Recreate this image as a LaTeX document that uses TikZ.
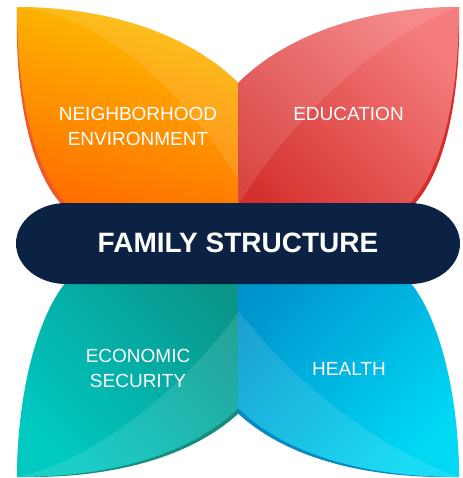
\documentclass[tikz,border=0pt]{standalone}
\usepackage{fontspec}
\setmainfont{Liberation Sans}
\definecolor{navy}{HTML}{0B2244}
\definecolor{orTop}{HTML}{FDBC00}
\definecolor{orBot}{HTML}{FF6400}
\definecolor{orShd}{HTML}{EF5A2A}
\definecolor{rdTop}{HTML}{F47C7C}
\definecolor{rdBot}{HTML}{D4312E}
\definecolor{rdShd}{HTML}{D52D27}
\definecolor{tlTop}{HTML}{0A948A}
\definecolor{tlBot}{HTML}{00C9C2}
\definecolor{tlShd}{HTML}{168C7C}
\definecolor{cyTop}{HTML}{0092CC}
\definecolor{cyBot}{HTML}{00D8F4}
\definecolor{cyShd}{HTML}{0A88C0}
\tikzset{
  petalNW/.style={insert path={(238.5,243) -- (238.5,83) .. controls (190,35) and (110,7) .. (17,7) .. controls (17,100) and (35,170) .. (66,203) -- (110,243) -- cycle}},
  petalNE/.style={insert path={(238,243) -- (238,83) .. controls (286,35) and (366,7) .. (459,7) .. controls (459,100) and (441,170) .. (410,203) -- (366,243) -- cycle}},
  petalSW/.style={insert path={(238.5,243) -- (238.5,408) .. controls (190,455) and (110,477) .. (17,477) .. controls (17,400) and (35,320) .. (66,282) -- (110,243) -- cycle}},
  petalSE/.style={insert path={(238,243) -- (238,408) .. controls (286,455) and (366,477) .. (459,477) .. controls (459,400) and (441,320) .. (410,282) -- (366,243) -- cycle}},
  shine/.style={fill=white, fill opacity=0.11},
  lbl/.style={text=white, font=\fontsize{19}{25}\selectfont, align=center, inner sep=0pt},
  ttl/.style={text=white, font=\bfseries\fontsize{28}{30}\selectfont, inner sep=0pt}
}
\begin{document}
\begin{tikzpicture}[x=1pt,y=-1pt]
\useasboundingbox (0,0) rectangle (462,478);
% ---- top left petal (orange)
\begin{scope}
  \clip (0,0) rectangle (238.5,478);
  \begin{scope}[rotate around={-1.4:(17,7)}]
    \fill[orShd, petalNW];
  \end{scope}
  \shade[petalNW, top color=orTop, bottom color=orBot, shading angle=-15];
  \fill[shine] (17,7) .. controls (110,7) and (190,35) .. (238.5,83) -- (238.5,180) .. controls (170,70) and (90,15) .. (17,7) -- cycle;
\end{scope}
% ---- top right petal (red)
\begin{scope}
  \clip (238,0) rectangle (462,478);
  \begin{scope}[rotate around={1.3:(459,7)}]
    \fill[rdShd, petalNE];
  \end{scope}
  \shade[petalNE, top color=rdTop, bottom color=rdBot, shading angle=-45];
  \fill[shine] (459,7) .. controls (366,7) and (286,35) .. (238,83) -- (238,205) .. controls (290,120) and (380,35) .. (459,7) -- cycle;
\end{scope}
% ---- bottom left petal (teal)
\begin{scope}
  \clip (0,243) rectangle (238.5,478);
  \begin{scope}[rotate around={-1.1:(17,477)}]
    \fill[tlShd, petalSW];
  \end{scope}
  \shade[petalSW, top color=tlTop, bottom color=tlBot, shading angle=-45];
  \fill[shine] (17,477) .. controls (110,477) and (190,455) .. (238.5,408) -- (238.5,312) .. controls (190,380) and (100,460) .. (17,477) -- cycle;
\end{scope}
% ---- bottom right petal (cyan)
\begin{scope}
  \clip (238,243) rectangle (462,478);
  \begin{scope}[rotate around={1.1:(459,477)}]
    \fill[cyShd, petalSE];
  \end{scope}
  \shade[petalSE, top color=cyTop, bottom color=cyBot, shading angle=45];
  \fill[shine] (459,477) .. controls (366,477) and (286,455) .. (238,408) -- (238,310) .. controls (290,380) and (380,450) .. (459,477) -- cycle;
\end{scope}
% ---- central pill
\fill[navy] (66,203) -- (410,203) arc[start angle=-90, end angle=90, x radius=50, y radius=40.5]
  -- (66,284) arc[start angle=90, end angle=270, x radius=50, y radius=40.5] -- cycle;
\node[ttl] (fam) at (238,243) {FAMILY STRUCTURE};
% ---- labels
\node[lbl] (nbh) at (138,126) {NEIGHBORHOOD\\ENVIRONMENT};
\node[lbl] (edu) at (348.5,114) {EDUCATION};
\node[lbl] (eco) at (138,368) {ECONOMIC\\SECURITY};
\node[lbl] (hea) at (349,368.5) {HEALTH};
\end{tikzpicture}
\end{document}
